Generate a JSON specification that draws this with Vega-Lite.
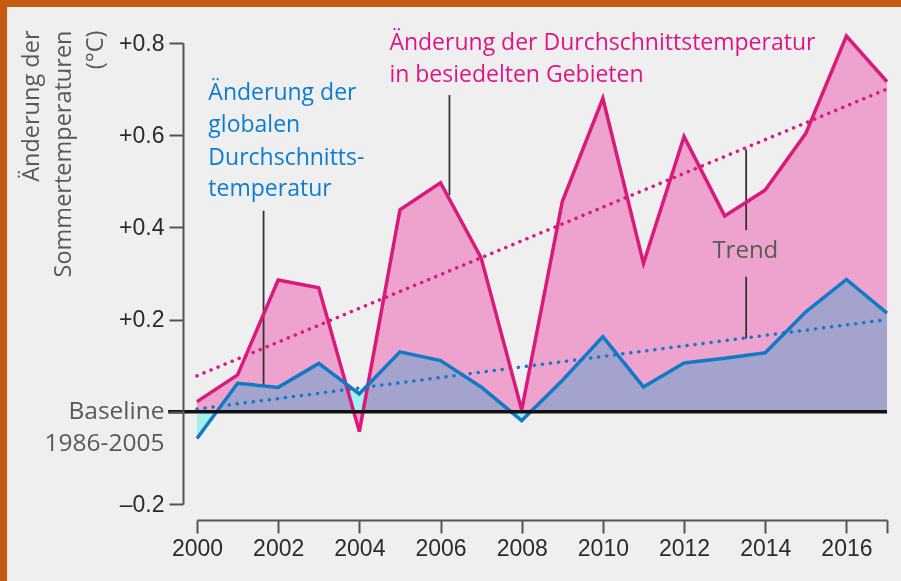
{
  "$schema": "https://vega.github.io/schema/vega-lite/v6.json",
  "width": 690,
  "height": 461,
  "autosize": {"type": "none"},
  "padding": {"left": 197, "top": 43, "right": 14, "bottom": 77},
  "background": "#C55A11",
  "config": {
    "view": {"stroke": null},
    "font": "Open Sans",
    "axis": {"grid": false, "domainColor": "#555", "domainWidth": 2, "tickColor": "#555", "tickWidth": 2, "labelFont": "Liberation Sans", "labelFontSize": 23, "labelColor": "#2b2b2b", "labelFlush": false, "labelOverlap": false}
  },
  "datasets": {
    "temps": [
      {"year": 2000, "settled": 0.022, "global": -0.058},
      {"year": 2001, "settled": 0.080, "global": 0.062},
      {"year": 2002, "settled": 0.286, "global": 0.053},
      {"year": 2003, "settled": 0.269, "global": 0.105},
      {"year": 2004, "settled": -0.043, "global": 0.039},
      {"year": 2005, "settled": 0.438, "global": 0.130},
      {"year": 2006, "settled": 0.497, "global": 0.111},
      {"year": 2007, "settled": 0.334, "global": 0.054},
      {"year": 2008, "settled": 0.004, "global": -0.019},
      {"year": 2009, "settled": 0.456, "global": 0.068},
      {"year": 2010, "settled": 0.680, "global": 0.163},
      {"year": 2011, "settled": 0.322, "global": 0.054},
      {"year": 2012, "settled": 0.597, "global": 0.106},
      {"year": 2013, "settled": 0.425, "global": 0.116},
      {"year": 2014, "settled": 0.481, "global": 0.128},
      {"year": 2015, "settled": 0.604, "global": 0.217},
      {"year": 2016, "settled": 0.815, "global": 0.287},
      {"year": 2017, "settled": 0.716, "global": 0.214}
    ],
    "trend": [
      {"year": 2000, "settled": 0.078, "global": 0.006},
      {"year": 2017, "settled": 0.700, "global": 0.200}
    ],
    "labels": [
      {"text": "Änderung der", "x": 2000.28, "y": 0.676, "group": "global"},
      {"text": "globalen", "x": 2000.28, "y": 0.607, "group": "global"},
      {"text": "Durchschnitts-", "x": 2000.28, "y": 0.536, "group": "global"},
      {"text": "temperatur", "x": 2000.28, "y": 0.468, "group": "global"},
      {"text": "Änderung der Durchschnittstemperatur", "x": 2004.74, "y": 0.785, "group": "settled"},
      {"text": "in besiedelten Gebieten", "x": 2004.74, "y": 0.716, "group": "settled"}
    ],
    "pointers": [
      {"x": 2001.64, "y": 0.436, "y2": 0.058},
      {"x": 2006.22, "y": 0.687, "y2": 0.470},
      {"x": 2013.53, "y": 0.569, "y2": 0.394},
      {"x": 2013.53, "y": 0.293, "y2": 0.159}
    ]
  },
  "layer": [
    {
      "data": {"values": [{}]},
      "mark": {"type": "rect", "color": "#EFEFEF"},
      "encoding": {
        "x": {"datum": 1995.32, "type": "quantitative", "scale": {"domain": [2000, 2017]}},
        "x2": {"datum": 2018.5},
        "y": {"datum": 0.878, "type": "quantitative", "scale": {"domain": [-0.2, 0.8]}},
        "y2": {"datum": -0.6}
      }
    },
    {
      "data": {"name": "temps"},
      "mark": {"type": "area", "color": "#EDA3CD"},
      "encoding": {
        "x": {
          "field": "year", "type": "quantitative", "scale": {"domain": [2000, 2017]},
          "axis": {
            "zindex": 2,
            "title": null, "values": [2000, 2002, 2004, 2006, 2008, 2010, 2012, 2014, 2016, 2017],
            "format": "d", "labelExpr": "datum.value == 2017 ? '' : datum.label",
            "offset": 16, "tickSize": 13, "labelPadding": 4
          }
        },
        "y": {
          "field": "settled", "type": "quantitative", "scale": {"domain": [-0.2, 0.8]},
          "axis": {
            "zindex": 2,
            "title": ["Änderung der", "Sommertemperaturen", "(°C)"],
            "titleFont": "Open Sans", "titleFontSize": 23.5, "titleFontWeight": "normal", "titleColor": "#595959",
            "titleAngle": 270, "titleAlign": "right", "titleBaseline": "alphabetic",
            "titleX": -145, "titleY": -13, "titleLineHeight": 32,
            "values": [-0.2, 0, 0.2, 0.4, 0.6, 0.8],
            "labelExpr": "datum.value == 0 ? ['Baseline', '1986-2005'] : (datum.value > 0 ? '+' + format(datum.value, '.1f') : '–' + format(-datum.value, '.1f'))",
            "offset": 14, "tickSize": 14,
            "labelFont": {"condition": {"test": "datum.value == 0", "value": "Open Sans"}, "value": "Liberation Sans"},
            "labelFontSize": {"condition": {"test": "datum.value == 0", "value": 24.5}, "value": 23},
            "labelColor": {"condition": {"test": "datum.value == 0", "value": "#595959"}, "value": "#2b2b2b"},
            "labelLineHeight": 32, "labelPadding": 5
          }
        },
        "y2": {"datum": 0}
      }
    },
    {
      "data": {"name": "temps"},
      "mark": {"type": "area", "color": "#B0FFFF", "blend": "multiply"},
      "encoding": {
        "x": {"field": "year", "type": "quantitative", "scale": {"domain": [2000, 2017]}},
        "y": {"field": "global", "type": "quantitative", "scale": {"domain": [-0.2, 0.8]}},
        "y2": {"datum": 0}
      }
    },
    {
      "data": {"name": "pointers"},
      "mark": {"type": "rule", "color": "#333", "strokeWidth": 1.8},
      "encoding": {
        "x": {"field": "x", "type": "quantitative", "scale": {"domain": [2000, 2017]}},
        "y": {"field": "y", "type": "quantitative", "scale": {"domain": [-0.2, 0.8]}},
        "y2": {"field": "y2"}
      }
    },
    {
      "data": {"name": "trend"},
      "mark": {"type": "line", "color": "#D81B7B", "strokeWidth": 3.5, "strokeDash": [0.1, 7.5], "strokeCap": "round"},
      "encoding": {
        "x": {"field": "year", "type": "quantitative", "scale": {"domain": [2000, 2017]}},
        "y": {"field": "settled", "type": "quantitative", "scale": {"domain": [-0.2, 0.8]}}
      }
    },
    {
      "data": {"name": "trend"},
      "mark": {"type": "line", "color": "#1279C6", "strokeWidth": 3.5, "strokeDash": [0.1, 8], "strokeCap": "round"},
      "encoding": {
        "x": {"field": "year", "type": "quantitative", "scale": {"domain": [2000, 2017]}},
        "y": {"field": "global", "type": "quantitative", "scale": {"domain": [-0.2, 0.8]}}
      }
    },
    {
      "data": {"name": "temps"},
      "mark": {"type": "line", "color": "#D81B7B", "strokeWidth": 3.5, "strokeJoin": "miter"},
      "encoding": {
        "x": {"field": "year", "type": "quantitative", "scale": {"domain": [2000, 2017]}},
        "y": {"field": "settled", "type": "quantitative", "scale": {"domain": [-0.2, 0.8]}}
      }
    },
    {
      "data": {"name": "temps"},
      "mark": {"type": "line", "color": "#1279C6", "strokeWidth": 3.5, "strokeJoin": "miter"},
      "encoding": {
        "x": {"field": "year", "type": "quantitative", "scale": {"domain": [2000, 2017]}},
        "y": {"field": "global", "type": "quantitative", "scale": {"domain": [-0.2, 0.8]}}
      }
    },
    {
      "data": {"values": [{}]},
      "mark": {"type": "rule", "color": "#111", "strokeWidth": 3.5},
      "encoding": {
        "x": {"datum": 1999.29, "type": "quantitative", "scale": {"domain": [2000, 2017]}},
        "x2": {"datum": 2017},
        "y": {"datum": 0, "type": "quantitative", "scale": {"domain": [-0.2, 0.8]}}
      }
    },
    {
      "data": {"name": "labels"},
      "mark": {"type": "text", "align": "left", "baseline": "alphabetic", "font": "Open Sans", "fontSize": 23},
      "encoding": {
        "x": {"field": "x", "type": "quantitative", "scale": {"domain": [2000, 2017]}},
        "y": {"field": "y", "type": "quantitative", "scale": {"domain": [-0.2, 0.8]}},
        "text": {"field": "text"},
        "color": {"field": "group", "type": "nominal", "scale": {"domain": ["global", "settled"], "range": ["#0C7CD0", "#DE1683"]}, "legend": null}
      }
    },
    {
      "data": {"values": [{"text": "Trend", "x": 2013.51, "y": 0.334}]},
      "mark": {"type": "text", "align": "center", "baseline": "alphabetic", "font": "Open Sans", "fontSize": 24, "color": "#595959"},
      "encoding": {
        "x": {"field": "x", "type": "quantitative", "scale": {"domain": [2000, 2017]}},
        "y": {"field": "y", "type": "quantitative", "scale": {"domain": [-0.2, 0.8]}},
        "text": {"field": "text"}
      }
    }
  ]
}
